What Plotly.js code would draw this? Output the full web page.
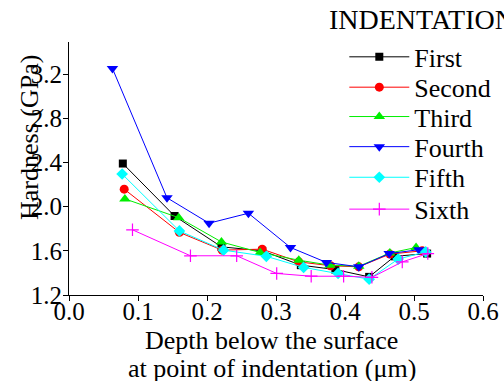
<!DOCTYPE html>
<html>
<head>
<meta charset="utf-8">
<script src="https://cdn.plot.ly/plotly-3.0.1.min.js"></script>
<style>
  html, body { margin: 0; padding: 0; background: #fff; }
  #chart { width: 504px; height: 381px; }
</style>
</head>
<body>
<div id="chart"></div>
<script>
// Hardness vs. depth below the surface, six indentation runs
const seriesNames = ["First", "Second", "Third", "Fourth", "Fifth", "Sixth"];

const firstDepth  = [0.078, 0.153, 0.221, 0.280, 0.336, 0.386, 0.435, 0.472, 0.519];
const firstHard   = [2.39, 1.915, 1.636, 1.600, 1.470, 1.430, 1.364, 1.550, 1.575];

const secondDepth = [0.080, 0.160, 0.222, 0.280, 0.333, 0.379, 0.420, 0.465, 0.512];
const secondHard  = [2.158, 1.767, 1.606, 1.615, 1.500, 1.465, 1.455, 1.570, 1.600];

const thirdDepth  = [0.081, 0.159, 0.221, 0.277, 0.333, 0.378, 0.420, 0.465, 0.503];
const thirdHard   = [2.07, 1.900, 1.680, 1.585, 1.515, 1.470, 1.460, 1.580, 1.630];

const fourthDepth = [0.063, 0.142, 0.203, 0.260, 0.321, 0.373, 0.420, 0.464, 0.507];
const fourthHard  = [3.25, 2.080, 1.850, 1.940, 1.630, 1.495, 1.455, 1.575, 1.610];

const fifthDepth  = [0.077, 0.160, 0.224, 0.286, 0.340, 0.390, 0.435, 0.477, 0.517];
const fifthHard   = [2.295, 1.780, 1.606, 1.550, 1.450, 1.395, 1.343, 1.525, 1.590];

const sixthDepth  = [0.092, 0.176, 0.243, 0.301, 0.351, 0.398, 0.439, 0.483, 0.520];
const sixthHard   = [1.790, 1.555, 1.555, 1.395, 1.370, 1.370, 1.360, 1.500, 1.575];

const xTicks = [0.0, 0.1, 0.2, 0.3, 0.4, 0.5, 0.6];
const yTicks = [1.2, 1.6, 2.0, 2.4, 2.8, 3.2];

const depths = [firstDepth, secondDepth, thirdDepth, fourthDepth, fifthDepth, sixthDepth];
const hards  = [firstHard, secondHard, thirdHard, fourthHard, fifthHard, sixthHard];

const colors  = ["#000000", "#ff0000", "#00ee00", "#0000ff", "#00ffff", "#ff00ff"];
const symbols = ["square", "circle", "triangle-up", "triangle-down", "diamond", "cross-thin-open"];
const sizes   = [8, 9, 10, 10, 9, 9];

const FONT = "Liberation Serif";
const SIZE = 26;

// one legend per entry so the rows sit at an exact pitch
const legendIds = ["legend", "legend2", "legend3", "legend4", "legend5", "legend6"];
const legendRowY = [0.941, 0.821, 0.705, 0.586, 0.465, 0.339];

const traces = seriesNames.map((name, i) => ({
  type: "scatter",
  mode: "lines+markers",
  name: name,
  legend: legendIds[i],
  x: depths[i],
  y: hards[i],
  line: { color: colors[i], width: 1 },
  marker: { symbol: symbols[i], size: sizes[i], color: colors[i],
            line: { color: colors[i], width: i === 5 ? 1.2 : 0 } },
  cliponaxis: false
}));

const layout = {
  width: 504,
  height: 381,
  margin: { l: 69, r: 21, t: 42, b: 86, autoexpand: false },
  paper_bgcolor: "#ffffff",
  plot_bgcolor: "#ffffff",
  font: { family: FONT, size: SIZE, color: "#000" },
  showlegend: true,
  xaxis: {
    range: [0, 0.6],
    tickvals: xTicks,
    tickformat: ".1f",
    showgrid: false,
    zeroline: false,
    showline: true,
    linecolor: "#000",
    linewidth: 1,
    ticks: "outside",
    ticklen: 5,
    tickcolor: "#000",
    ticklabelstandoff: -11,
    automargin: false,
    tickfont: { family: FONT, size: 25, color: "#000" }
  },
  yaxis: {
    range: [1.2, 3.49],
    tickvals: yTicks,
    tickformat: ".1f",
    showgrid: false,
    zeroline: false,
    showline: true,
    linecolor: "#000",
    linewidth: 1,
    ticks: "outside",
    ticklen: 5,
    tickcolor: "#000",
    ticklabelstandoff: -4,
    automargin: false,
    tickfont: { family: FONT, size: 25, color: "#000" }
  },
  annotations: [
    { text: "INDENTATION", xref: "paper", yref: "paper", x: 0.623, y: 1.087,
      xanchor: "left", yanchor: "middle", showarrow: false,
      font: { family: FONT, size: 28, color: "#000" } },
    { text: "Hardness (GPa)", xref: "paper", yref: "paper", x: -0.097, y: 0.624,
      xanchor: "center", yanchor: "middle", textangle: -90, showarrow: false,
      font: { family: FONT, size: SIZE, color: "#000" } },
    { text: "Depth below the surface", xref: "paper", yref: "paper", x: 0.49, y: -0.18,
      xanchor: "center", yanchor: "middle", showarrow: false,
      font: { family: FONT, size: SIZE, color: "#000" } },
    { text: "at point of indentation (\u03bcm)", xref: "paper", yref: "paper", x: 0.49, y: -0.29,
      xanchor: "center", yanchor: "middle", showarrow: false,
      font: { family: FONT, size: SIZE, color: "#000" } }
  ]
};

legendIds.forEach((id, i) => {
  layout[id] = {
    x: 0.665, xanchor: "left",
    y: legendRowY[i], yanchor: "middle",
    itemwidth: 60,
    font: { family: FONT, size: SIZE, color: "#000" },
    bgcolor: "rgba(0,0,0,0)",
    borderwidth: 0
  };
});

Plotly.newPlot("chart", traces, layout, { displayModeBar: false, staticPlot: true });
</script>
</body>
</html>
